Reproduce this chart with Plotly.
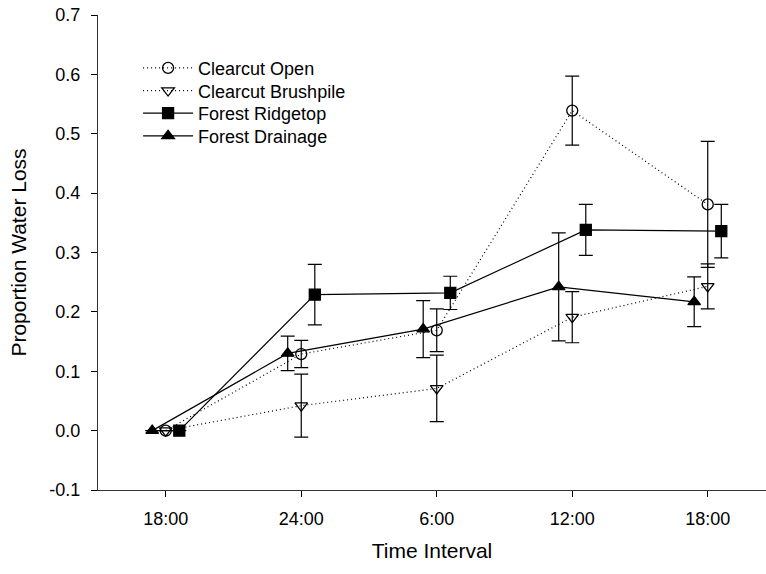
import plotly.graph_objects as go

categories = ["18:00", "24:00", "6:00", "12:00", "18:00"]

open_vals = [0.0, 0.129, 0.169, 0.539, 0.381]
open_err = [0.0, 0.023, 0.036, 0.058, 0.106]

brush_vals = [0.0, 0.042, 0.071, 0.191, 0.243]
brush_err = [0.0, 0.053, 0.056, 0.043, 0.038]

ridge_vals = [0.0, 0.229, 0.232, 0.338, 0.336]
ridge_err = [0.0, 0.051, 0.028, 0.043, 0.045]

drain_vals = [0.0, 0.130, 0.171, 0.242, 0.217]
drain_err = [0.0, 0.029, 0.048, 0.091, 0.042]

series = [
    ("Clearcut Open", open_vals, open_err, 0.0, "1px,3px", "circle-open"),
    ("Clearcut Brushpile", brush_vals, brush_err, 0.0, "1px,3px", "triangle-down-open"),
    ("Forest Ridgetop", ridge_vals, ridge_err, 0.1, "solid", "square"),
    ("Forest Drainage", drain_vals, drain_err, -0.1, "solid", "triangle-up"),
]

# legend row centres (paper fraction of plot height)
legend_rows = [0.888, 0.8403, 0.7926, 0.7449]
legend_ids = ["legend", "legend2", "legend3", "legend4"]

fig = go.Figure()
for k, (name, vals, errs, off, dash, sym) in enumerate(series):
    xs = [i + off for i in range(len(categories))]
    arr = [e if e > 0 else None for e in errs]
    fig.add_trace(go.Scatter(
        x=xs, y=vals, name=name, mode="lines+markers",
        legend=legend_ids[k],
        line=dict(color="black", width=1.2, dash=dash),
        marker=dict(symbol=sym, size=11, color="black",
                    line=dict(color="black", width=1.3)),
        error_y=dict(type="data", array=arr, visible=True,
                     color="black", thickness=1.2, width=7),
    ))

legend_common = dict(x=0.06, xanchor="left", yanchor="middle",
                     bgcolor="rgba(0,0,0,0)", font=dict(size=18),
                     itemwidth=50, borderwidth=0)

layout_legends = {}
for lid, ly in zip(legend_ids, legend_rows):
    layout_legends[lid] = dict(y=ly, **legend_common)

fig.update_layout(
    width=766, height=574,
    margin=dict(l=98, r=0, t=15, b=84),
    plot_bgcolor="white", paper_bgcolor="white",
    font=dict(family="Liberation Sans, Arial", size=18, color="black"),
    showlegend=True,
    xaxis=dict(
        range=[-0.5, 4.43], tickmode="array",
        tickvals=list(range(len(categories))), ticktext=categories,
        showline=True, linecolor="#333", linewidth=1.2,
        ticks="outside", ticklen=6, tickcolor="black", tickwidth=1.2,
        ticklabelstandoff=6, tickfont=dict(size=18),
        showgrid=False, zeroline=False,
        title=dict(text="Time Interval", font=dict(size=21), standoff=15),
    ),
    yaxis=dict(
        range=[-0.1, 0.7], tickmode="array",
        tickvals=[-0.1, 0.0, 0.1, 0.2, 0.3, 0.4, 0.5, 0.6, 0.7],
        ticktext=["-0.1", "0.0", "0.1", "0.2", "0.3", "0.4", "0.5", "0.6", "0.7"],
        showline=True, linecolor="#333", linewidth=1.2,
        ticks="outside", ticklen=6, tickcolor="black", tickwidth=1.2,
        ticklabelstandoff=7, tickfont=dict(size=18),
        showgrid=False, zeroline=False,
        title=dict(text="Proportion Water Loss", font=dict(size=21), standoff=16),
    ),
    **layout_legends,
)

fig.write_html("out.html")
